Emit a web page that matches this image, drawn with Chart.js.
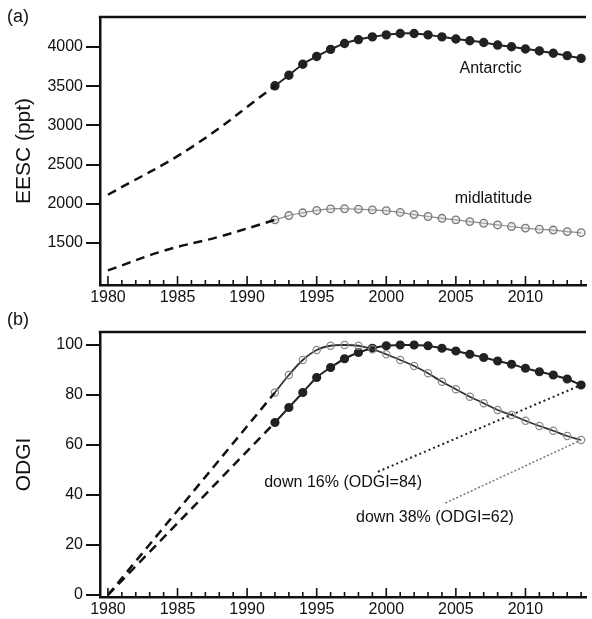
<!DOCTYPE html>
<html><head><meta charset="utf-8">
<script src="https://cdn.jsdelivr.net/npm/chart.js@4"></script>
<style>
html,body{margin:0;padding:0;background:#fff;}
#wrap{position:relative;width:592px;height:619px;overflow:hidden;}
#ca{position:absolute;left:0;top:0;}
#cb{position:absolute;left:0;top:305px;}
</style></head><body>
<div id="wrap">
<canvas id="ca" width="592" height="305"></canvas>
<canvas id="cb" width="592" height="314"></canvas>
</div>
<script>
// ---- data ----
const years = [1992,1993,1994,1995,1996,1997,1998,1999,2000,2001,2002,2003,2004,2005,2006,2007,2008,2009,2010,2011,2012,2013,2014];
const eescAntarctic = [3505,3640,3780,3880,3970,4045,4095,4130,4155,4172,4172,4155,4130,4102,4080,4058,4025,4003,3975,3950,3920,3890,3855];
const eescMidlat = [1795,1850,1885,1915,1935,1937,1932,1922,1912,1890,1862,1838,1815,1795,1773,1752,1730,1710,1690,1675,1665,1645,1632];
const trendYearsAnt = [1980,1986,1992];
const trendEescAnt = [2115,2720,3505];
const trendYearsMid = [1980,1984,1988,1992];
const trendEescMid = [1150,1400,1580,1795];
const odgiAntarctic = [69,75,81,87,91,94.5,97,98.7,99.7,100,100,99.7,98.7,97.6,96.3,95,93.6,92.3,90.7,89.3,88,86.4,84];
const odgiMidlat = [81,88,94,98,99.7,100,99.7,98.3,96.3,94,91.6,88.7,85.3,82.3,79.3,76.7,74,72,69.7,67.6,65.7,63.6,62];
const trendYearsOdgi = [1980,1992];
const trendOdgiAnt = [0,69];
const trendOdgiMid = [0,81];
const xTicks = [1980,1985,1990,1995,2000,2005,2010];
const yTicksA = [1500,2000,2500,3000,3500,4000];
const yTicksB = [0,20,40,60,80,100];
const labelsA = ['Antarctic','midlatitude'];
const labelsB = ['down 16% (ODGI=84)','down 38% (ODGI=62)'];

// ---- helpers ----
const FONT = '"Liberation Sans", Arial, Helvetica, sans-serif';
Chart.defaults.font.family = FONT;
Chart.defaults.color = '#111';
const pts = (xs, ys) => xs.map((x,i)=>({x, y: ys[i]}));

const frame = {
  id:'frame',
  afterDraw(chart, args, o){
    const {ctx, chartArea:a, scales:{x,y}} = chart;
    ctx.save();
    ctx.strokeStyle='#111';
    ctx.lineWidth=2.5;
    ctx.beginPath(); ctx.moveTo(a.left-1.25, a.top); ctx.lineTo(a.right, a.top); ctx.stroke();
    ctx.lineWidth=1.6;
    for(let yr=1980; yr<=2014; yr++){
      const px = x.getPixelForValue(yr);
      const len = yr%5===0 ? 9 : 5;
      ctx.beginPath(); ctx.moveTo(px, a.bottom); ctx.lineTo(px, a.bottom-len); ctx.stroke();
    }
    ctx.fillStyle='#111';
    ctx.textBaseline='middle';
    ctx.textAlign='left';
    ctx.font='18px '+FONT;
    ctx.fillText(o.panel, 7, o.panelY);
    ctx.textAlign='center';
    ctx.font='16px '+FONT;
    (o.notes||[]).forEach(n=>{
      ctx.fillText(n.text, x.getPixelForValue(n.x), y.getPixelForValue(n.y));
    });
    ctx.restore();
  }
};

function xScale(h){
  return {
    type:'linear', min:1979.43, max:2014.35,
    afterBuildTicks: ax => { ax.ticks = xTicks.map(v=>({value:v})); },
    afterFit: ax => { ax.height = h; },
    ticks:{ callback: v=>String(v), font:{size:16}, padding:3, color:'#111', maxRotation:0, autoSkip:false },
    grid:{ display:true, drawOnChartArea:false, drawTicks:false },
    border:{ display:true, color:'#111', width:2.5 }
  };
}
function yScale(min, max, ticks, title){
  return {
    type:'linear', min, max,
    afterBuildTicks: ax => { ax.ticks = ticks.map(v=>({value:v})); },
    afterFit: ax => { ax.width = 100; },
    ticks:{ callback: v=>String(v), font:{size:16}, padding:3, color:'#111' },
    grid:{ drawOnChartArea:false, drawTicks:true, tickLength:14, color:'#111', lineWidth:2 },
    border:{ display:true, color:'#111', width:2.5 },
    title:{ display:true, text:title, font:{size:21}, color:'#111', padding:{top:12} }
  };
}
const common = {
  responsive:false, animation:false, events:[],
  plugins:{ legend:{display:false}, tooltip:{enabled:false} },
};

// ---- panel (a) ----
new Chart(document.getElementById('ca'), {
  type:'line',
  data:{ datasets:[
    { data: pts(trendYearsAnt, trendEescAnt), borderColor:'#111', borderWidth:2.5, borderDash:[9,6], pointRadius:0, tension:0.4 },
    { data: pts(trendYearsMid, trendEescMid), borderColor:'#111', borderWidth:2.5, borderDash:[9,6], pointRadius:0, tension:0.4 },
    { data: pts(years, eescMidlat), borderColor:'#8a8a8a', borderWidth:1.2, pointRadius:3.8, pointBackgroundColor:'rgba(200,200,200,0.35)', pointBorderColor:'#777', pointBorderWidth:1.3, tension:0.3 },
    { data: pts(years, eescAntarctic), borderColor:'#222', borderWidth:2, pointRadius:3.7, pointBackgroundColor:'#222', pointBorderColor:'#222', tension:0.3 },
  ]},
  options:{ ...common,
    layout:{ padding:{ left:0, right:0, top:17, bottom:0 } },
    scales:{ x:xScale(20), y:yScale(964, 4383, yTicksA, 'EESC (ppt)') },
    plugins:{ ...common.plugins, frame:{ panel:'(a)', panelY:17, notes:[
      {text:labelsA[0], x:2007.5, y:3719},
      {text:labelsA[1], x:2007.7, y:2064}
    ]}}
  },
  plugins:[frame]
});

// ---- panel (b) ----
new Chart(document.getElementById('cb'), {
  type:'line',
  data:{ datasets:[
    { data: pts(trendYearsOdgi, trendOdgiMid), borderColor:'#111', borderWidth:2.5, borderDash:[9,6], pointRadius:0 },
    { data: pts(trendYearsOdgi, trendOdgiAnt), borderColor:'#111', borderWidth:2.5, borderDash:[9,6], pointRadius:0 },
    { data: [{x:1999.4,y:49.3},{x:2014,y:84}], borderColor:'#222', borderWidth:2, borderDash:[2,3], pointRadius:0 },
    { data: [{x:2004.25,y:36.8},{x:2014,y:62}], borderColor:'#777', borderWidth:1.5, borderDash:[2,2], pointRadius:0 },
    { data: pts(years, odgiMidlat), borderColor:'#333', borderWidth:1.8, pointRadius:3.6, pointBackgroundColor:'rgba(255,255,255,0)', pointBorderColor:'#8a8a8a', pointBorderWidth:1.2, tension:0.4 },
    { data: pts(years, odgiAntarctic), borderColor:'#222', borderWidth:2, pointRadius:3.6, pointBackgroundColor:'#222', pointBorderColor:'#222', tension:0.3 },
  ]},
  options:{ ...common,
    layout:{ padding:{ left:0, right:0, top:27, bottom:0 } },
    scales:{ x:xScale(22), y:yScale(-0.8, 105.2, yTicksB, 'ODGI') },
    plugins:{ ...common.plugins, frame:{ panel:'(b)', panelY:15, notes:[
      {text:labelsB[0], x:1996.9, y:45},
      {text:labelsB[1], x:2003.5, y:30.8}
    ]}}
  },
  plugins:[frame]
});
</script>
</body></html>
